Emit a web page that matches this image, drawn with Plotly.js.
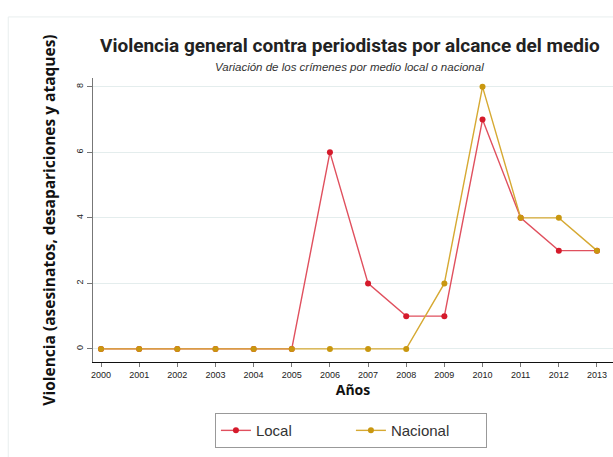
<!DOCTYPE html>
<html>
<head>
<meta charset="utf-8">
<script src="https://cdn.plot.ly/plotly-3.0.1.min.js"></script>
<style>
html,body{margin:0;padding:0;background:#fff;}
#chart{width:613px;height:457px;}
</style>
</head>
<body>
<div id="chart"></div>
<script>
const years = [2000,2001,2002,2003,2004,2005,2006,2007,2008,2009,2010,2011,2012,2013];
const localValues = [0,0,0,0,0,0,6,2,1,1,7,4,3,3];
const nacionalValues = [0,0,0,0,0,0,0,0,0,2,8,4,4,3];
const yTicks = [0,2,4,6,8];
const seriesNames = ['Local','Nacional'];

const traces = [
  {
    x: years, y: localValues, name: seriesNames[0], type: 'scatter', mode: 'lines+markers',
    line: {color: '#e0505e', width: 1.4},
    marker: {color: '#d51a2b', size: 6}
  },
  {
    x: years, y: nacionalValues, name: seriesNames[1], type: 'scatter', mode: 'lines+markers',
    line: {color: '#d6a932', width: 1.4},
    marker: {color: '#c9970f', size: 6}
  }
];

const layout = {
  width: 613, height: 457,
  margin: {l: 93, r: 0, t: 78, b: 95},
  paper_bgcolor: '#fff', plot_bgcolor: '#fff',
  font: {family: 'Liberation Sans, Arial, sans-serif', color: '#222'},
  showlegend: true,
  title: {
    text: '<b>Violencia general contra periodistas por alcance del medio</b>',
    font: {family: 'Roboto, sans-serif', size: 19, color: '#222'},
    x: 0.494, xanchor: 'center', y: 0.9, yanchor: 'middle', xref: 'paper', yref: 'container'
  },
  xaxis: {
    range: [1999.79, 2013.42],
    tickmode: 'array', tickvals: years, ticktext: years.map(String),
    tickfont: {size: 9, color: '#222'},
    ticks: 'outside', ticklen: 4, tickcolor: '#777', tickwidth: 1,
    showline: true, linecolor: '#111', linewidth: 1.2,
    showgrid: false, zeroline: false,
    title: {text: '<b>Años</b>', font: {family: 'Open Sans, sans-serif', size: 14, color: '#111'}, standoff: 6}
  },
  yaxis: {
    range: [-0.4, 8.27],
    tickmode: 'array', tickvals: yTicks, ticktext: yTicks.map(String),
    tickangle: -90,
    tickfont: {size: 9, color: '#222'},
    ticks: 'outside', ticklen: 5, tickcolor: '#777', tickwidth: 1,
    showline: true, linecolor: '#777', linewidth: 1.2,
    showgrid: true, gridcolor: '#e4eded', gridwidth: 1,
    zeroline: false,
    title: {text: '<b>Violencia (asesinatos, desapariciones y ataques)</b>', font: {family: 'Open Sans, sans-serif', size: 15.5, color: '#111'}, standoff: 15}
  },
  legend: {
    orientation: 'h', x: 0.496, xanchor: 'center', y: -0.18, yanchor: 'top',
    bordercolor: '#999', borderwidth: 1, bgcolor: '#fff',
    font: {size: 15, color: '#333'},
    entrywidth: 90, entrywidthmode: 'pixels'
  },
  annotations: [
    {
      text: '<i>Variación de los crímenes por medio local o nacional</i>',
      xref: 'paper', yref: 'paper', x: 0.494, y: 1.04, xanchor: 'center', yanchor: 'middle',
      showarrow: false, font: {size: 11.5, color: '#333'}
    }
  ],
  shapes: [
    {type: 'line', xref: 'paper', yref: 'paper', x0: -0.163, x1: 1.1, y0: 1.215, y1: 1.215, line: {color: '#e8eeee', width: 1}},
    {type: 'line', xref: 'paper', yref: 'paper', x0: -0.163, x1: -0.163, y0: 1.215, y1: -0.4, line: {color: '#e8eeee', width: 1}}
  ]
};

Plotly.newPlot('chart', traces, layout, {displayModeBar: false, staticPlot: true});
</script>
</body>
</html>
